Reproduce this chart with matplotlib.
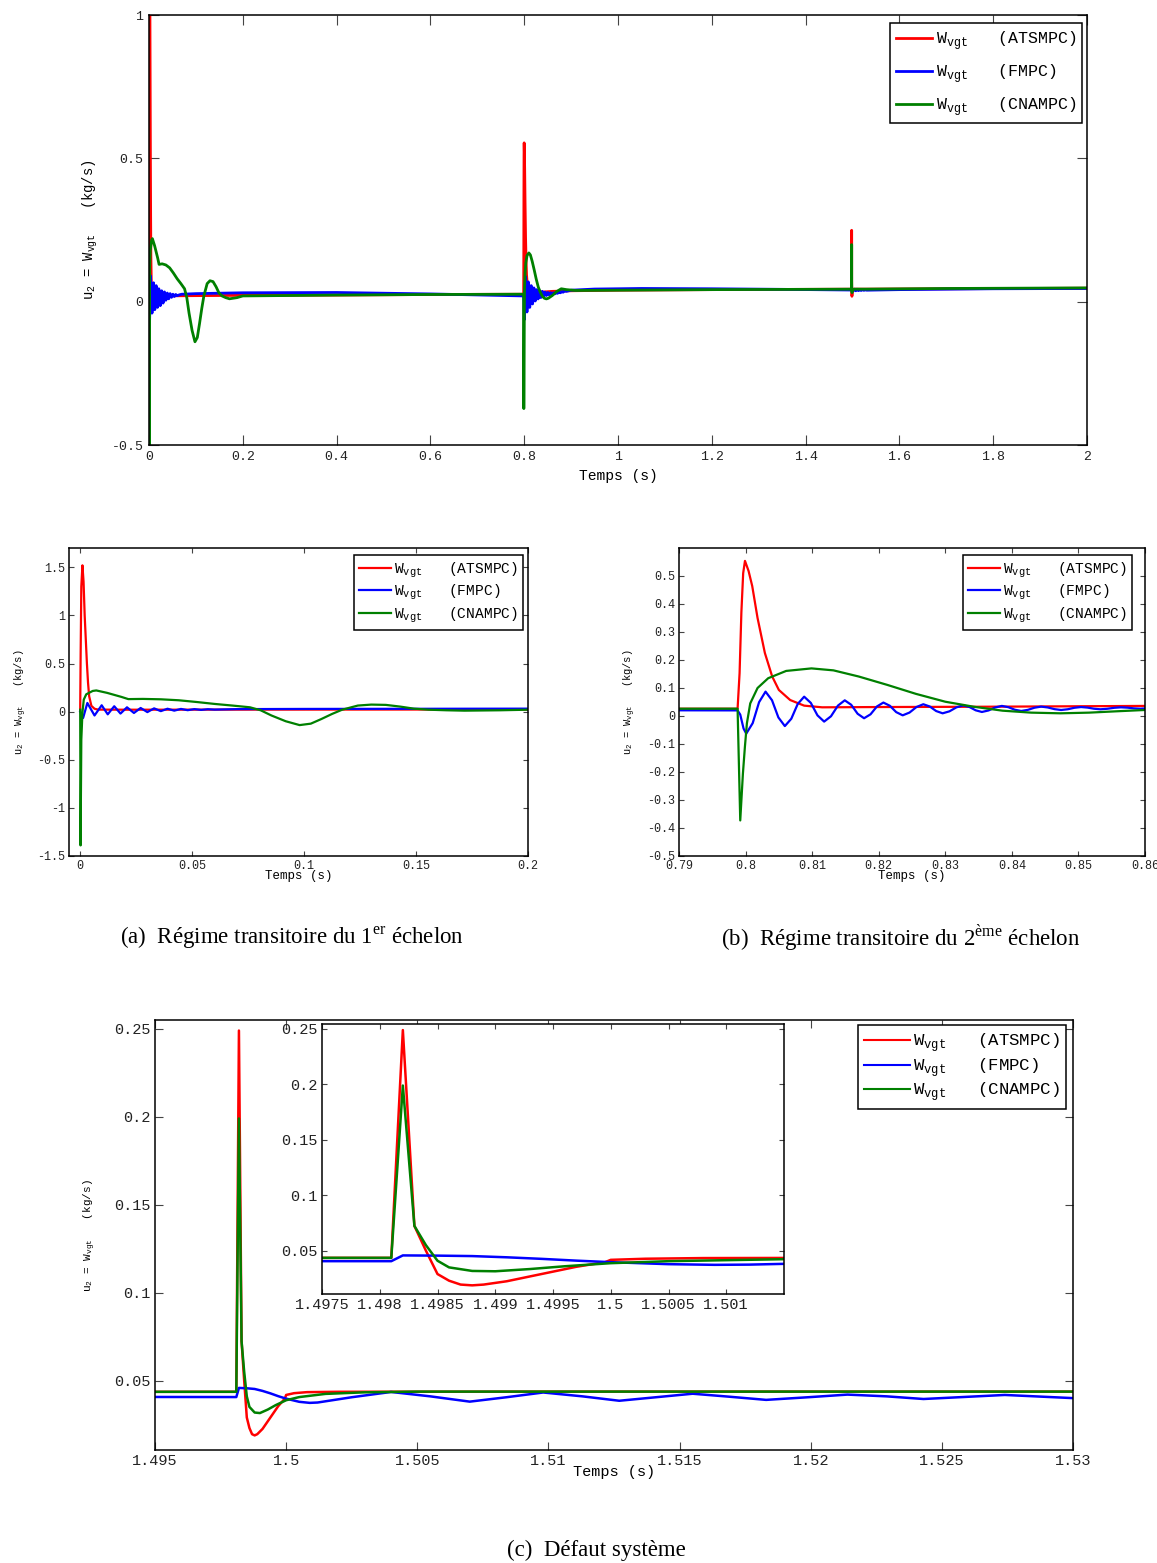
import numpy as np
import matplotlib
matplotlib.use("Agg")
import matplotlib.pyplot as plt
from matplotlib.ticker import FuncFormatter

plt.rcParams['font.family'] = ['Liberation Mono', 'DejaVu Sans Mono']
plt.rcParams['mathtext.fontset'] = 'custom'
plt.rcParams['mathtext.rm'] = 'Liberation Serif'
plt.rcParams['mathtext.tt'] = 'Liberation Mono'
plt.rcParams['axes.unicode_minus'] = False

# ---- W_vgt (ATSMPC) ----
red_t_1 = [0, 0.0002, 0.0005, 0.001, 0.0015, 0.002, 0.0025, 0.003, 0.0035, 0.004, 0.005,
           0.0064, 0.008, 0.02, 0.1, 0.2, 0.4, 0.6, 0.7988]
red_u_1 = [0.02, 0.6, 1.3, 1.52, 1.35, 1.0, 0.75, 0.5, 0.3, 0.16, 0.06,
           0.03, 0.021, 0.02, 0.021, 0.022, 0.023, 0.025, 0.026]
red_t_2 = [0.7991, 0.79937, 0.79964, 0.79991, 0.80045, 0.8010, 0.8018, 0.8029, 0.8040, 0.8050,
           0.8067, 0.8088, 0.8115, 0.82, 0.835, 0.86, 0.9, 1.0, 1.2, 1.4, 1.4981]
red_u_2 = [0.153, 0.37, 0.51, 0.554, 0.518, 0.464, 0.35, 0.225, 0.141, 0.093,
           0.057, 0.037, 0.031, 0.032, 0.033, 0.036, 0.038, 0.040, 0.042, 0.043, 0.0436]
red_t_3 = [1.4982, 1.4983, 1.4984, 1.4985, 1.4986, 1.4987, 1.4988, 1.4989, 1.4991, 1.4994,
           1.4997, 1.49995, 1.5, 1.5003, 1.5008, 1.502, 1.51, 1.53, 1.7, 2.0]
red_u_3 = [0.249, 0.0724, 0.05, 0.029, 0.023, 0.0195, 0.0188, 0.0195, 0.0225, 0.029,
           0.0355, 0.0397, 0.0418, 0.0428, 0.0434, 0.0436, 0.0437, 0.0437, 0.045, 0.047]

# ---- W_vgt (FMPC) ----
blue_t_1 = [0, 0.0013, 0.0032, 0.0064, 0.0096, 0.0123, 0.0152, 0.018, 0.0209, 0.024,
            0.027, 0.030, 0.033, 0.036, 0.039, 0.042, 0.045, 0.048, 0.051, 0.054,
            0.057, 0.060, 0.065, 0.07, 0.1, 0.2, 0.4, 0.6, 0.7988]
blue_u_1 = [0.0, -0.066, 0.09, -0.04, 0.066, -0.028, 0.056, -0.02, 0.045, -0.014,
            0.038, -0.005, 0.034, 0.005, 0.030, 0.010, 0.028, 0.015, 0.026, 0.018,
            0.025, 0.021, 0.024, 0.026, 0.028, 0.031, 0.032, 0.027, 0.02]
blue_t_2 = [0.7992, 0.7997, 0.8001, 0.80107, 0.80203, 0.8030, 0.80397, 0.80493, 0.8059, 0.80687,
            0.80783, 0.8088, 0.8098, 0.8108, 0.8118, 0.81283, 0.81387, 0.8149, 0.81587, 0.81683,
            0.8178, 0.81877, 0.81973, 0.8207, 0.82167, 0.82263, 0.8236, 0.82463, 0.82567, 0.8267,
            0.82767, 0.82863, 0.8296, 0.83063, 0.83167, 0.8327, 0.83363, 0.83457, 0.8355, 0.8365,
            0.8375, 0.8385, 0.83947, 0.84043, 0.8414, 0.8424, 0.8434, 0.8444, 0.8454, 0.8464,
            0.8474, 0.8484, 0.8494, 0.8504, 0.85137, 0.85233, 0.8533, 0.85433, 0.85537, 0.8564,
            0.85737, 0.85833, 0.8593, 0.8623, 0.8652, 0.868, 0.871, 0.874, 0.877, 0.88,
            0.883, 0.886, 0.89, 0.9, 0.95, 1.05, 1.2, 1.35, 1.4981]
blue_u_2 = [0.005, -0.045, -0.063, -0.0255, 0.0495, 0.087, 0.0563, -0.0052, -0.036, -0.0098,
            0.0428, 0.069, 0.0468, 0.0023, -0.02, -0.001, 0.037, 0.056, 0.040, 0.008,
            -0.008, 0.006, 0.034, 0.048, 0.0366, 0.0138, 0.0024, 0.0123, 0.0321, 0.042,
            0.0339, 0.0177, 0.0096, 0.0167, 0.0309, 0.038, 0.0321, 0.0203, 0.0144, 0.0198,
            0.0306, 0.036, 0.0315, 0.0225, 0.018, 0.0219, 0.0296, 0.0335, 0.0305, 0.0245,
            0.0215, 0.0241, 0.0294, 0.032, 0.030, 0.026, 0.024, 0.0258, 0.0293, 0.031,
            0.0298, 0.0273, 0.026, 0.031, 0.027, 0.032, 0.029, 0.034, 0.031, 0.035,
            0.033, 0.037, 0.036, 0.04, 0.044, 0.046, 0.045, 0.043, 0.0406]
blue_t_3 = [1.4982, 1.4985, 1.4988, 1.4991, 1.4994, 1.4997, 1.5, 1.5005, 1.5009, 1.5012,
            1.5025, 1.504, 1.5055, 1.507, 1.5084, 1.5098, 1.5113, 1.5127, 1.5141, 1.5155,
            1.5169, 1.5183, 1.5199, 1.5214, 1.5229, 1.5243, 1.5259, 1.5274, 1.53, 1.6,
            1.8, 2.0]
blue_u_3 = [0.0458, 0.0456, 0.0452, 0.0441, 0.0427, 0.0411, 0.0397, 0.0379, 0.0373, 0.0375,
            0.0405, 0.0435, 0.041, 0.038, 0.0405, 0.0432, 0.041, 0.0385, 0.0405, 0.0425,
            0.0408, 0.039, 0.0405, 0.042, 0.041, 0.0395, 0.0407, 0.0418, 0.040, 0.042,
            0.045, 0.046]

# ---- W_vgt (CNAMPC) ----
green_t_1 = [0, 0.00016, 0.0005, 0.001, 0.0016, 0.0027, 0.0056, 0.0072, 0.012, 0.0184,
             0.0215, 0.028, 0.036, 0.044, 0.052, 0.06, 0.068, 0.0758, 0.0806, 0.0854,
             0.0918, 0.098, 0.103, 0.1077, 0.1125, 0.117, 0.124, 0.130, 0.1365, 0.143,
             0.149, 0.1556, 0.1636, 0.1716, 0.1875, 0.2, 0.4, 0.6, 0.7988]
green_u_1 = [0.02, -1.39, -0.29, -0.01, 0.125, 0.18, 0.215, 0.22, 0.195, 0.153,
             0.13, 0.132, 0.128, 0.118, 0.10, 0.08, 0.063, 0.045, 0.014, -0.04,
             -0.10, -0.14, -0.125, -0.077, -0.024, 0.02, 0.063, 0.073, 0.07, 0.052,
             0.031, 0.02, 0.014, 0.01, 0.014, 0.02, 0.023, 0.025, 0.026]
green_t_2 = [0.7992, 0.7996, 0.7999, 0.8002, 0.8007, 0.8018, 0.8034, 0.8061, 0.8099, 0.8132,
             0.817, 0.8213, 0.8256, 0.830, 0.8343, 0.8386, 0.8429, 0.8473, 0.8516, 0.8559,
             0.86, 0.868, 0.879, 0.89, 0.91, 1.0, 1.2, 1.4, 1.4981]
green_u_2 = [-0.373, -0.206, -0.11, -0.026, 0.045, 0.10, 0.135, 0.161, 0.17, 0.163,
             0.141, 0.111, 0.079, 0.051, 0.033, 0.019, 0.012, 0.0096, 0.012, 0.017,
             0.0215, 0.034, 0.045, 0.042, 0.039, 0.040, 0.042, 0.043, 0.0436]
green_t_3 = [1.4982, 1.4983, 1.4984, 1.4985, 1.4986, 1.4988, 1.4990, 1.4993, 1.4996, 1.5,
             1.5005, 1.5015, 1.503, 1.505, 1.53, 1.7, 2.0]
green_u_3 = [0.199, 0.0724, 0.055, 0.041, 0.035, 0.0318, 0.0315, 0.0335, 0.0360, 0.0388,
             0.0406, 0.0424, 0.0433, 0.0437, 0.0437, 0.046, 0.048]

names = ['ATSMPC', 'FMPC', 'CNAMPC']
colors = ['#ff0000', '#0000ff', '#008000']
series = [
    (red_t_1 + red_t_2 + red_t_3, red_u_1 + red_u_2 + red_u_3),
    (blue_t_1 + blue_t_2 + blue_t_3, blue_u_1 + blue_u_2 + blue_u_3),
    (green_t_1 + green_t_2 + green_t_3, green_u_1 + green_u_2 + green_u_3),
]

ylab = r'u$_{\mathtt{2}}$ = W$_{\mathtt{vgt}}$   (kg/s)'
fmt = FuncFormatter(lambda v, p: '%g' % (round(v, 6) + 0.0))

fig = plt.figure(figsize=(11.57, 15.63), dpi=100)
W, H = 1157.0, 1563.0


def make_axes(l, r, t, b):
    return fig.add_axes([l / W, 1 - b / H, (r - l) / W, (b - t) / H])


def draw(ax, lw):
    for (t, u), c, n in zip(series, colors, names):
        ax.plot(t, u, color=c, lw=lw, label=r'W$_{\mathtt{vgt}}$   (%s)' % n)


def style(ax, xlim, ylim, xt, yt, fs, ticklen, pad):
    ax.set_xlim(*xlim)
    ax.set_ylim(*ylim)
    ax.set_xticks(xt)
    ax.set_yticks(yt)
    ax.xaxis.set_major_formatter(fmt)
    ax.yaxis.set_major_formatter(fmt)
    ax.tick_params(direction='in', top=True, right=True, length=ticklen, width=0.8,
                   color='#444444', labelsize=fs, labelcolor='#222222', pad=pad)
    for s in ax.spines.values():
        s.set_linewidth(1.1)
        s.set_color('black')


def legend(ax, fs, dx, dy, w, h, spacing, hl, lw):
    lg = ax.legend(loc='upper right', bbox_to_anchor=(1 - dx / w, 1 - dy / h), borderaxespad=0,
                   fontsize=fs, fancybox=False, framealpha=1, edgecolor='black',
                   handlelength=hl, handletextpad=0.2, labelspacing=spacing, borderpad=0.35)
    lg.get_frame().set_linewidth(1.1)
    for ln in lg.get_lines():
        ln.set_linewidth(lw)
    return lg


# ---- top: full simulation ----
ax1 = make_axes(149, 1087, 15, 445)
draw(ax1, 2.0)
style(ax1, (0, 2), (-0.5, 1), np.round(np.arange(0, 2.01, 0.2), 6), [-0.5, 0, 0.5, 1], 9.5, 7, 4)
ax1.set_xlabel('Temps (s)', fontsize=10.5)
ax1.xaxis.set_label_coords(0.5, -0.055)
ax1.set_ylabel(ylab, fontsize=10)
ax1.yaxis.set_label_coords(-0.052, 0.5)
legend(ax1, 12, 5, 8, 938, 430, 0.6, 2.2, 2.0)

# ---- (a) first step ----
ax2 = make_axes(69, 528, 548, 856)
draw(ax2, 1.6)
style(ax2, (-0.005, 0.2), (-1.5, 1.7), np.round(np.arange(0, 0.201, 0.05), 6),
      np.round(np.arange(-1.5, 1.51, 0.5), 6), 8.5, 3.5, 3)
ax2.set_xlabel('Temps (s)', fontsize=9)
ax2.xaxis.set_label_coords(0.5, -0.045)
ax2.set_ylabel(ylab, fontsize=7.5)
ax2.yaxis.set_label_coords(-0.088, 0.5)
legend(ax2, 10.5, 5, 7, 459, 308, 0.2, 2.2, 1.6)

# ---- (b) second step ----
ax3 = make_axes(679, 1145, 548, 856)
draw(ax3, 1.6)
style(ax3, (0.79, 0.86), (-0.5, 0.6), np.round(np.arange(0.79, 0.8601, 0.01), 6),
      np.round(np.arange(-0.5, 0.501, 0.1), 6), 8.5, 3.5, 3)
ax3.set_xlabel('Temps (s)', fontsize=9)
ax3.xaxis.set_label_coords(0.5, -0.045)
ax3.set_ylabel(ylab, fontsize=7.5)
ax3.yaxis.set_label_coords(-0.088, 0.5)
legend(ax3, 10.5, 13, 7, 466, 308, 0.2, 2.2, 1.6)

# ---- (c) system fault ----
ax4 = make_axes(155, 1073, 1020, 1450)
draw(ax4, 1.8)
style(ax4, (1.495, 1.53), (0.0105, 0.255), np.round(np.arange(1.495, 1.5301, 0.005), 6),
      np.round(np.arange(0.05, 0.2501, 0.05), 6), 11, 6, 3)
ax4.set_xlabel('Temps (s)', fontsize=11)
ax4.xaxis.set_label_coords(0.5, -0.035)
ax4.set_ylabel(ylab, fontsize=8)
ax4.yaxis.set_label_coords(-0.062, 0.5)
legend(ax4, 12.5, 7, 5, 918, 430, 0.1, 2.6, 1.5)

ax5 = make_axes(322, 784, 1024, 1294)
draw(ax5, 1.8)
style(ax5, (1.4975, 1.5015), (0.011, 0.2545), np.round(np.arange(1.4975, 1.50101, 0.0005), 6),
      np.round(np.arange(0.05, 0.2501, 0.05), 6), 11, 3.5, 3)

# ---- captions ----
cap = dict(family=['Liberation Serif', 'DejaVu Serif'], fontsize=16.5, ha='center', va='center')
fig.text(292 / W, 1 - 938 / H, r'(a)  Régime transitoire du 1$^{\mathrm{er}}$ échelon', **cap)
fig.text(901 / W, 1 - 938 / H, r'(b)  Régime transitoire du 2$^{\mathrm{ème}}$ échelon', **cap)
fig.text(596 / W, 1 - 1550 / H, r'(c)  Défaut système', **cap)

fig.savefig('out.png', dpi=100)
